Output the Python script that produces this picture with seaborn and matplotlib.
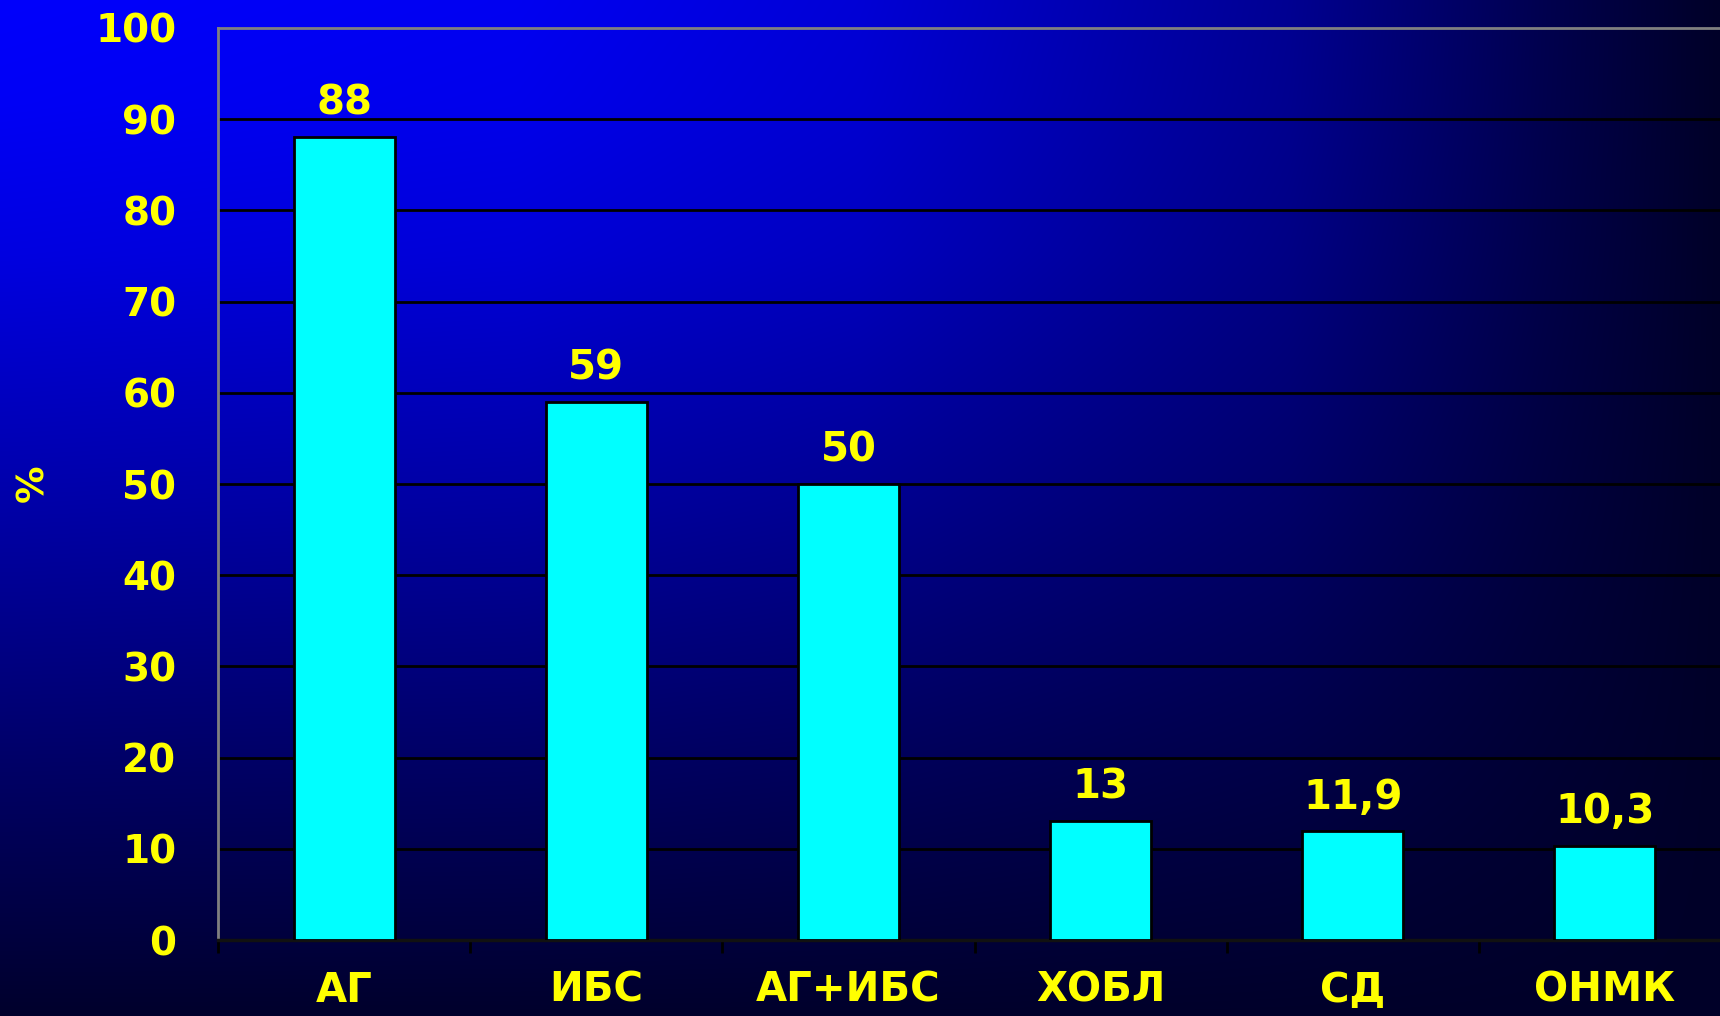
import numpy as np
import pandas as pd
import matplotlib
matplotlib.use("Agg")
import matplotlib.pyplot as plt
import seaborn as sns

categories = ["АГ", "ИБС", "АГ+ИБС", "ХОБЛ", "СД", "ОНМК"]
values = [88, 59, 50, 13, 11.9, 10.3]
value_labels = ["88", "59", "50", "13", "11,9", "10,3"]
y_ticks = [0, 10, 20, 30, 40, 50, 60, 70, 80, 90, 100]

sns.set_theme(style="white")
plt.rcParams["font.family"] = ["DejaVu Sans"]
plt.rcParams["font.weight"] = "bold"

W, H = 1720, 1016
fig = plt.figure(figsize=(W / 100, H / 100), dpi=100)

# background gradient
xs = np.linspace(0, 1, 400)
ys = np.linspace(0, 1, 240)
X, Y = np.meshgrid(xs, ys)
fx = np.interp(X, [0, 0.3, 0.5, 0.75, 0.9, 1.0], [1.0, 0.95, 0.82, 0.5, 0.18, 0.0])
fy = np.interp(Y, [0, 0.1, 0.25, 0.5, 0.75, 1.0], [1.0, 0.97, 0.87, 0.6, 0.3, 0.02])
b = (40 + 212 * fx * fy) / 255.0
img = np.zeros((240, 400, 3))
img[..., 2] = b
bg = fig.add_axes([0, 0, 1, 1], zorder=0)
bg.imshow(img, aspect="auto", extent=[0, 1, 0, 1], interpolation="bilinear")
bg.set_axis_off()

left = 218 / W
bottom = 1 - 940 / H
top = 1 - 28 / H
right = 1731 / W
ax = fig.add_axes([left, bottom, right - left, top - bottom], zorder=1)
ax.patch.set_alpha(0)

df = pd.DataFrame({"cat": categories, "val": values})
sns.barplot(data=df, x="cat", y="val", color="#00FFFF", saturation=1,
            edgecolor="black", linewidth=2, width=0.4, ax=ax, zorder=3)

ax.set_xlim(-0.5, 5.5)
ax.set_ylim(0, 100)
ax.set_yticks(y_ticks)
ax.set_yticklabels([str(t) for t in y_ticks])
for t in y_ticks[1:-1]:
    ax.axhline(t, color="black", lw=2, zorder=2)

ax.bar_label(ax.containers[0], labels=value_labels, padding=10,
             color="#FFFF00", fontsize=29, fontweight="bold")

ax.set_xlabel("")
ax.set_ylabel("")
ax.set_xticks(range(len(categories)))
ax.set_xticklabels(categories)
ax.set_xticks(np.arange(-0.5, 6, 1), minor=True)
ax.tick_params(axis="x", which="major", length=0, pad=22, labelsize=29,
               labelcolor="#FFFF00")
ax.tick_params(axis="x", which="minor", length=9, width=2, color="black",
               direction="out", bottom=True)
ax.tick_params(axis="y", length=0, pad=30, labelsize=28, labelcolor="#FFFF00")

for s in ["left", "top", "right"]:
    ax.spines[s].set_color("#808080")
    ax.spines[s].set_linewidth(2)
ax.spines["bottom"].set_color("#111111")
ax.spines["bottom"].set_linewidth(2.5)

fig.text(33 / W, 1 - 483 / H, "%", rotation=90, color="#FFFF00",
         fontsize=27, fontweight="bold", ha="center", va="center")

fig.savefig("out.png", dpi=100)
